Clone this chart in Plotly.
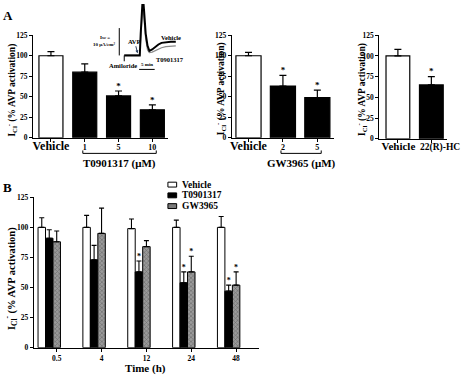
import plotly.graph_objects as go

# ---------------- data ----------------
a1_labels = ["Vehicle", "1", "5", "10"]
a1_values = [100, 80, 51, 34]
a1_err = [5, 10, 6, 6]
a1_sig = [False, False, True, True]

a2_labels = ["Vehicle", "2", "5"]
a2_values = [100, 63, 49]
a2_err = [4, 13, 9]
a2_sig = [False, True, True]

a3_labels = ["Vehicle", "22(R)-HC"]
a3_values = [100, 65]
a3_err = [8, 10]
a3_sig = [False, True]

b_times = ["0.5", "4", "12", "24", "48"]
b_vehicle = [100, 100, 99, 100, 100]
b_vehicle_err = [8, 10, 8, 6, 9]
b_t09 = [91, 73, 63, 54, 47]
b_t09_err = [7, 12, 9, 9, 5]
b_t09_sig = [False, False, True, True, True]
b_gw = [88, 95, 84, 63, 52]
b_gw_err = [9, 21, 5, 13, 11]
b_gw_sig = [False, False, False, True, True]

# inset current trace (time in min, Isc in uA/cm2)
inset_time = [0, 2, 4, 5, 5.3, 5.7, 6.0, 6.4, 6.9, 7.5, 8.1, 9, 10, 11, 12, 13.4, 15, 16.6]
inset_vehicle = [0, 0, 0, 0, 8, 17, 22, 16, 8, 3.5, 1.7, 2.2, 3.2, 4.0, 4.6, 4.9, 5.0, 5.0]
inset_t09 = [0.2, 0.2, 0.2, 0.2, 6, 13, 18, 13, 6, 2.0, 1.0, 1.2, 1.8, 2.4, 2.8, 3.2, 3.4, 3.5]

# ---------------- geometry helpers ----------------
W, H = 474, 380
FONT = "Liberation Serif"


def xdom(p0, p1):
    return [p0 / W, p1 / W]


def ydom(top, bottom):
    return [1 - bottom / H, 1 - top / H]


def px(p):
    return p / W


def py(p):
    return 1 - p / H


def to_px(v, rng, dom_px):
    return dom_px[0] + (v - rng[0]) / (rng[1] - rng[0]) * (dom_px[1] - dom_px[0])


A1_X, A1_R = (33, 172), [-0.53, 3.46]
A2_X, A2_R = (238, 343), [-0.48, 2.48]
A3_X, A3_R = (390, 460), [-0.55, 1.48]
A_Y = (32, 137)
A3_Y = (32, 138)
B_X, B_R = (34, 266), [-0.34, 4.68]
B_Y = (198, 352)
IN_X, IN_R = (120.6, 181.4), [-2, 17]
IN_Y, IN_R_Y = (0, 69.5), [-6, 18.8]
A3_LABEL_SHIFT_PX = [0.5, 9.0]


def in_px_x(t):
    return to_px(t, IN_R, IN_X)


def in_px_y(v):
    return IN_Y[1] - (v - IN_R_Y[0]) / (IN_R_Y[1] - IN_R_Y[0]) * (IN_Y[1] - IN_Y[0])


fig = go.Figure()


def tick_text(labels):
    out = []
    for lab in labels:
        if lab == "Vehicle":
            out.append(lab)
        elif lab == "22(R)-HC":
            out.append("<span style='font-size:9.5px'>%s</span>" % lab)
        else:
            out.append("<span style='font-size:8px'>%s</span>" % lab)
    return out


def add_panel(labels, values, err, sig, xa, ya, width):
    n = len(values)
    xs = list(range(n))
    colors = ["white" if lab == "Vehicle" else "black" for lab in labels]
    fig.add_trace(go.Bar(
        x=xs, y=values, width=width, xaxis=xa, yaxis=ya,
        marker=dict(color=colors, line=dict(color="black", width=1.2)),
        error_y=dict(type="data", symmetric=False, array=err, arrayminus=[0] * n,
                     color="black", thickness=1.2, width=3.5),
        showlegend=False, hoverinfo="skip"))
    sx = [x for x, s in zip(xs, sig) if s]
    sy = [v + e for v, e, s in zip(values, err, sig) if s]
    fig.add_trace(go.Scatter(
        x=sx, y=sy, xaxis=xa, yaxis=ya, mode="text", text=["*"] * len(sx),
        textposition="top center", textfont=dict(size=9, color="black"),
        showlegend=False, hoverinfo="skip", cliponaxis=False))


add_panel(a1_labels, a1_values, a1_err, a1_sig, "x", "y", 0.71)
add_panel(a2_labels, a2_values, a2_err, a2_sig, "x2", "y2", 0.73)
add_panel(a3_labels, a3_values, a3_err, a3_sig, "x3", "y3", 0.71)

# ---------------- panel B ----------------
bx = list(range(len(b_times)))
bw = (1 - 0.5) / 3
GW_FILL = "#9a9a9a"
series = [
    ("Vehicle", b_vehicle, b_vehicle_err, None, dict(color="white"), "white"),
    ("T0901317", b_t09, b_t09_err, b_t09_sig, dict(color="black"), "black"),
    ("GW3965", b_gw, b_gw_err, b_gw_sig,
     dict(color=GW_FILL, pattern=dict(shape="x", fgcolor="#3a3a3a", size=3, solidity=0.35,
                                       fillmode="overlay")), "#7a7a7a"),
]
for k, (name, vals, errs, sig, mk, _) in enumerate(series):
    mk = dict(mk)
    mk["line"] = dict(color="black", width=1)
    fig.add_trace(go.Bar(
        name=name, x=bx, y=vals, xaxis="x4", yaxis="y4", marker=mk, showlegend=False,
        error_y=dict(type="data", symmetric=False, array=errs, arrayminus=[0] * len(vals),
                     color="black", thickness=1.1, width=2.5),
        hoverinfo="skip"))
for k, (name, vals, errs, sig, mk, _) in enumerate(series):
    if sig is None:
        continue
    off = (k - 1) * bw
    sx = [x + off for x, s in zip(bx, sig) if s]
    sy = [v + e for v, e, s in zip(vals, errs, sig) if s]
    fig.add_trace(go.Scatter(
        x=sx, y=sy, xaxis="x4", yaxis="y4", mode="text", text=["*"] * len(sx),
        textposition="top center", textfont=dict(size=8, color="black"),
        showlegend=False, hoverinfo="skip", cliponaxis=False))

# ---------------- inset ----------------
fig.add_trace(go.Scatter(x=inset_time, y=inset_t09, xaxis="x5", yaxis="y5", mode="lines",
                         line=dict(color="#8a8a8a", width=1.2), showlegend=False, hoverinfo="skip"))
fig.add_trace(go.Scatter(x=inset_time, y=inset_vehicle, xaxis="x5", yaxis="y5", mode="lines",
                         line=dict(color="black", width=2), showlegend=False, hoverinfo="skip"))

# ---------------- axes ----------------
ax_common = dict(showline=True, linecolor="black", linewidth=1.3, ticks="outside", ticklen=3,
                 tickwidth=1, tickcolor="black", showgrid=False, zeroline=False, fixedrange=True,
                 tickangle=0)
yticks = [0, 25, 50, 75, 100, 125]
xtickfont = dict(size=12, color="black", family=FONT, weight="bold")

layout = dict(
    width=W, height=H, margin=dict(l=0, r=0, t=0, b=0),
    paper_bgcolor="white", plot_bgcolor="rgba(0,0,0,0)",
    font=dict(family=FONT, color="black", size=8, weight="bold"),
    barmode="group", bargap=0.5, bargroupgap=0, showlegend=False,
)
for ax, dom, rng, labels, anchor in [
        ("xaxis", A1_X, A1_R, a1_labels, "y"),
        ("xaxis2", A2_X, A2_R, a2_labels, "y2")]:
    layout[ax] = dict(ax_common, domain=xdom(*dom), range=rng, anchor=anchor,
                      tickvals=list(range(len(labels))), ticktext=tick_text(labels),
                      tickfont=xtickfont, ticklabelstandoff=-6)
# panel A3: tick marks at bars (minor), labels nudged apart like the original
a3_unit_px = (A3_X[1] - A3_X[0]) / (A3_R[1] - A3_R[0])
a3_label_pos = [i + s / a3_unit_px for i, s in zip(range(len(a3_labels)), A3_LABEL_SHIFT_PX)]
layout["xaxis3"] = dict(ax_common, domain=xdom(*A3_X), range=A3_R, anchor="y3",
                        ticks="", tickvals=a3_label_pos, ticktext=tick_text(a3_labels),
                        tickfont=dict(xtickfont, size=11), ticklabelstandoff=-3,
                        minor=dict(tickmode="array", tickvals=list(range(len(a3_labels))),
                                   ticks="outside", ticklen=3, tickwidth=1, tickcolor="black",
                                   showgrid=False))
for ax, dom, anchor in [("yaxis", A_Y, "x"), ("yaxis2", A_Y, "x2"), ("yaxis3", A3_Y, "x3"),
                        ("yaxis4", B_Y, "x4")]:
    layout[ax] = dict(ax_common, domain=ydom(*dom), range=[0, 125], anchor=anchor,
                      tickvals=yticks, tickfont=dict(size=7.5, color="black", family=FONT, weight="bold"))
layout["xaxis4"] = dict(ax_common, domain=xdom(*B_X), range=B_R, anchor="y4",
                        tickvals=[x + bw for x in bx], ticktext=b_times,
                        tickfont=dict(size=7.5, color="black", family=FONT, weight="bold"))
layout["xaxis5"] = dict(domain=xdom(*IN_X), range=IN_R, anchor="y5", visible=False, fixedrange=True)
layout["yaxis5"] = dict(domain=ydom(*IN_Y), range=IN_R_Y, anchor="x5", visible=False, fixedrange=True)
fig.update_layout(**layout)

# ---------------- annotations & shapes ----------------
anns = []


def ann(x, y, text, size, angle=0, xanchor="center", yanchor="middle"):
    anns.append(dict(x=px(x), y=py(y), xref="paper", yref="paper", text=text, showarrow=False,
                     textangle=angle, xanchor=xanchor, yanchor=yanchor,
                     font=dict(size=size, family=FONT, color="black", weight="bold")))


ytitle = "I<sub>Cl</sub><sup>-</sup> (% AVP activation)"
ann(0, 12, "A", 13, xanchor="left")
ann(0, 188, "B", 13, xanchor="left")
ann(11, 88, ytitle, 9.5, angle=-90)
ann(227, 87, ytitle, 9.5, angle=-90)
ann(372, 88, ytitle, 9.5, angle=-90)
ann(11, 281, ytitle, 10.5, angle=-90)
ann(149, 373, "Time (h)", 11)

shapes = []


def bracket(lo, hi, rng, dom, y, label):
    x0 = to_px(lo, rng, dom) - 2
    x1 = to_px(hi, rng, dom) + 4
    xm = (x0 + x1) / 2
    path = "M %f %f L %f %f L %f %f L %f %f" % (
        px(x0), py(y - 3), px(x0), py(y), px(x1), py(y), px(x1), py(y - 3))
    shapes.append(dict(type="path", path=path, xref="paper", yref="paper",
                       line=dict(color="black", width=1)))
    ann(xm, y + 10, label, 11)


bracket(1, len(a1_labels) - 1, A1_R, A1_X, 153, "T0901317 (μM)")
bracket(1, len(a2_labels) - 1, A2_R, A2_X, 153, "GW3965 (μM)")

# manual legend for panel B
for k, (name, *_rest) in enumerate(series):
    fill = _rest[-1]
    yc = 185 + 11 * k
    shapes.append(dict(type="rect", xref="paper", yref="paper", x0=px(172), x1=px(181),
                       y0=py(yc - 2.5), y1=py(yc + 2.5), fillcolor=fill,
                       line=dict(color="black", width=1)))
    ann(184, yc, name, 9.5, xanchor="left")

# inset decorations
sb_x = in_px_x(-1.6)
shapes.append(dict(type="line", xref="paper", yref="paper", x0=px(sb_x), x1=px(sb_x),
                   y0=py(in_px_y(0)), y1=py(in_px_y(10)), line=dict(color="black", width=1)))
t0, t1 = 4.8, 9.8
shapes.append(dict(type="line", xref="paper", yref="paper", x0=px(in_px_x(t0)), x1=px(in_px_x(t1)),
                   y0=py(67), y1=py(67), line=dict(color="black", width=1)))
shapes.append(dict(type="line", xref="paper", yref="paper", x0=px(in_px_x(0)), x1=px(in_px_x(0)),
                   y0=py(in_px_y(0)), y1=py(in_px_y(0) + 6), line=dict(color="black", width=1)))
ann(107, 34, "Isc =", 5)
ann(106, 41, "10 μA/cm²", 5)
ann(126, 63, "Amiloride", 6.5)
ann(in_px_x((t0 + t1) / 2), 62, "5 min", 5)
ann(175, 34, "Vehicle", 6.5)
ann(174, 57, "T0901317", 6.5)
anns.append(dict(x=px(in_px_x(4.3)), y=py(in_px_y(0.8)), xref="paper", yref="paper", text="AVP",
                 showarrow=True, arrowhead=2, arrowsize=0.6, arrowwidth=1, ax=-3, ay=-12,
                 font=dict(size=6.5, family=FONT, color="black", weight="bold")))

fig.update_layout(annotations=anns, shapes=shapes)
fig.write_html("out.html", config={"displayModeBar": False},
               post_script="document.body.style.margin='0px';")
